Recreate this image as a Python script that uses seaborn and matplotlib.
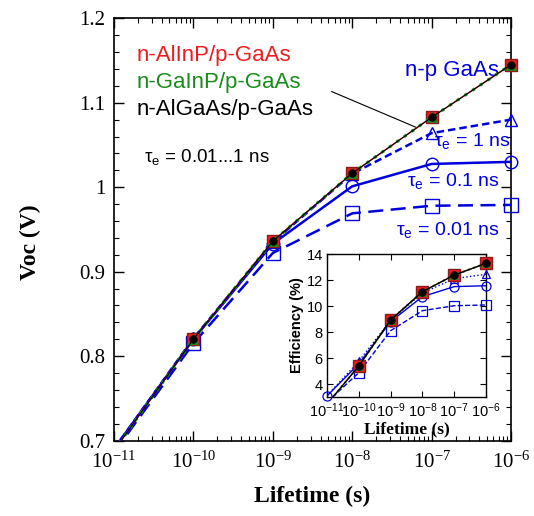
import numpy as np
import pandas as pd
import matplotlib
matplotlib.use("Agg")
import matplotlib.pyplot as plt
import seaborn as sns
from matplotlib.ticker import FixedLocator, LogLocator, FuncFormatter, MultipleLocator, NullFormatter

# ---------------- data ----------------
lifetime_s = [1e-11, 1e-10, 1e-9, 1e-8, 1e-7, 1e-6]

# main panel: open-circuit voltage (V)
voc_alinp = [0.688, 0.820, 0.936, 1.0165, 1.0827, 1.145]
voc_gainp = [0.688, 0.820, 0.936, 1.0165, 1.0827, 1.145]
voc_algaas = [0.688, 0.820, 0.936, 1.0165, 1.0827, 1.145]
voc_tau_1ns = [0.690, 0.821, 0.935, 1.016, 1.064, 1.080]
voc_tau_01ns = [0.690, 0.820, 0.933, 1.001, 1.0275, 1.030]
voc_tau_001ns = [0.686, 0.815, 0.922, 0.969, 0.978, 0.979]

# inset: efficiency (%)
eff_alinp = [2.45, 5.38, 8.92, 11.10, 12.38, 13.28]
eff_gainp = [2.45, 5.38, 8.92, 11.10, 12.38, 13.28]
eff_algaas = [2.45, 5.38, 8.92, 11.10, 12.38, 13.28]
eff_tau_1ns = [3.10, 5.75, 8.90, 11.00, 12.10, 12.44]
eff_tau_01ns = [3.08, 5.55, 8.80, 10.72, 11.49, 11.56]
eff_tau_001ns = [2.60, 4.87, 8.10, 9.64, 10.02, 10.08]

x_tick_exponents = [-11, -10, -9, -8, -7, -6]
voc_ticks = [0.7, 0.8, 0.9, 1.0, 1.1, 1.2]
eff_ticks = [4, 6, 8, 10, 12, 14]

het_labels = ["n-AlInP/p-GaAs", "n-GaInP/p-GaAs", "n-AlGaAs/p-GaAs"]
tau_labels = ["τ$_\\mathregular{e}$ = 1 ns", "τ$_\\mathregular{e}$ = 0.1 ns", "τ$_\\mathregular{e}$ = 0.01 ns"]
group_label = "n-p GaAs"
range_label = "τ$_\\mathregular{e}$ = 0.01...1 ns"

# ---------------- style ----------------
sns.set_theme(style="ticks")
plt.rcParams["font.family"] = ["Liberation Sans", "DejaVu Sans"]
plt.rcParams["axes.linewidth"] = 1.2

RED = "#ee1c1c"
RED_EDGE = "#8b1a1a"
GREEN = "#1a8c1a"
BLUE = "#0000dd"

fig = plt.figure(figsize=(5.34, 5.16), dpi=100)
fig.patch.set_facecolor("white")

W, H = 534, 516
ax = fig.add_axes([114 / W, 1 - 440.5 / H, 397 / W, 422.2 / H])
ax.set_facecolor("white")


def draw(a, y, color, lw, ls, marker, ms, mfc, mec, mew, z, first_marker=1):
    # line (clipped to the axes)
    sns.lineplot(x=lifetime_s, y=y, ax=a, errorbar=None, sort=False, color=color, lw=lw,
                 linestyle=ls, zorder=z)
    # markers (not clipped, like the reference)
    sns.lineplot(x=lifetime_s[first_marker:], y=y[first_marker:], ax=a, errorbar=None, sort=False,
                 color=color, linestyle="none", marker=marker, markersize=ms, markerfacecolor=mfc,
                 markeredgecolor=mec, markeredgewidth=mew, zorder=z + 0.5, clip_on=False)


def exp_fmt(v, p):
    return r"$\mathregular{10^{%d}}$" % int(round(np.log10(v)))


# main: blue homojunction curves
draw(ax, voc_tau_1ns, BLUE, 1.8, (0, (3, 1.6)), "^", 8, "none", BLUE, 1, 3)
draw(ax, voc_tau_01ns, BLUE, 1.8, "-", "o", 9, "none", BLUE, 1, 3)
draw(ax, voc_tau_001ns, BLUE, 1.8, (0, (6, 3)), "s", 10, "none", BLUE, 1, 3)
# heterojunction curves
draw(ax, voc_alinp, RED, 1.0, "-", "s", 9, RED, RED_EDGE, 1, 5)
draw(ax, voc_gainp, GREEN, 2.2, (0, (1, 2)), "^", 7, GREEN, GREEN, 0.5, 6)
draw(ax, voc_algaas, "black", 0.8, "-", "o", 5.5, "black", "black", 0.5, 7)

ax.set_xscale("log")
ax.set_xlim(10.0 ** x_tick_exponents[0], 10.0 ** x_tick_exponents[-1])
ax.set_ylim(voc_ticks[0], voc_ticks[-1])
ax.xaxis.set_major_locator(FixedLocator([10.0 ** e for e in x_tick_exponents]))
ax.xaxis.set_major_formatter(FuncFormatter(exp_fmt))
ax.xaxis.set_minor_locator(LogLocator(base=10, subs=np.arange(2, 10)))
ax.xaxis.set_minor_formatter(NullFormatter())
ax.yaxis.set_major_locator(FixedLocator(voc_ticks))
ax.yaxis.set_major_formatter(FuncFormatter(lambda v, p: "%g" % round(v, 2)))
ax.yaxis.set_minor_locator(MultipleLocator(0.02))
ax.tick_params(which="both", direction="in", top=True, right=True, colors="black",
               labelsize=15, labelfontfamily="Liberation Serif")
ax.tick_params(which="major", length=7, width=1.0, pad=6)
ax.tick_params(axis="x", which="major", pad=8)
ax.tick_params(which="minor", length=3.5, width=0.8)
for s in ax.spines.values():
    s.set_color("black")
    s.set_linewidth(1.2)

ax.set_xlabel("Lifetime (s)", fontfamily="Liberation Serif", fontweight="bold", fontsize=17, color="black")
ax.set_ylabel("Voc (V)", fontfamily="Liberation Serif", fontweight="bold", fontsize=17, color="black")
ax.xaxis.set_label_coords(0.5, -0.108)
ax.yaxis.set_label_coords(-0.185, 0.47)

# legend-like texts
het_colors = [RED, GREEN, "black"]
for lbl, col, yy in zip(het_labels, het_colors, [0.911, 0.847, 0.783]):
    ax.text(0.058, yy, lbl, color=col, fontsize=16, transform=ax.transAxes, va="center", ha="left")
ax.text(0.075, 0.657, range_label, color="black", fontsize=13.5, transform=ax.transAxes,
        va="baseline", ha="left")
ax.text(0.851, 0.877, group_label, color=BLUE, fontsize=16, transform=ax.transAxes,
        va="center", ha="center")
for lbl, (xx, yy) in zip(tau_labels, [(0.806, 0.695), (0.738, 0.602), (0.710, 0.486)]):
    ax.text(xx, yy, lbl, color=BLUE, fontsize=14, transform=ax.transAxes, va="baseline", ha="left")

ax.annotate("", xy=(6.4e-8, 1.0708), xytext=(5.5e-9, 1.1133),
            arrowprops=dict(arrowstyle="-", color="black", lw=0.8, shrinkA=0, shrinkB=0))

# ---------------- inset ----------------
axi = fig.add_axes([327 / W, 1 - 397 / H, 159 / W, 143 / H], zorder=10)
axi.set_facecolor("white")
draw(axi, eff_tau_1ns, BLUE, 1.0, ":", "^", 6, "none", BLUE, 0.9, 3)
draw(axi, eff_tau_01ns, BLUE, 1.0, "-", "o", 6.5, "none", BLUE, 0.9, 3, first_marker=0)
draw(axi, eff_tau_001ns, BLUE, 1.0, "--", "s", 7.5, "none", BLUE, 0.9, 3)
draw(axi, eff_alinp, RED, 0.8, "-", "s", 8, RED, RED_EDGE, 1, 5)
draw(axi, eff_gainp, GREEN, 1.5, ":", "^", 6, GREEN, GREEN, 0.5, 6)
draw(axi, eff_algaas, "black", 1.0, "-", "o", 5.5, "black", "black", 0.5, 7)

axi.set_xscale("log")
axi.set_xlim(10.0 ** x_tick_exponents[0], 10.0 ** x_tick_exponents[-1])
axi.set_ylim(3, 14)
axi.xaxis.set_major_locator(FixedLocator([10.0 ** e for e in x_tick_exponents]))
axi.xaxis.set_major_formatter(FuncFormatter(exp_fmt))
axi.xaxis.set_minor_locator(LogLocator(base=10, subs=np.arange(2, 10)))
axi.xaxis.set_minor_formatter(NullFormatter())
axi.yaxis.set_major_locator(FixedLocator(eff_ticks))
axi.yaxis.set_major_formatter(FuncFormatter(lambda v, p: "%d" % v))
axi.tick_params(which="both", direction="in", top=True, right=True, colors="black",
                labelsize=10.5, labelfontfamily="Liberation Sans")
axi.tick_params(which="major", length=4, width=0.8, pad=3)
axi.tick_params(which="minor", length=2, width=0.6)
for s in axi.spines.values():
    s.set_color("black")
    s.set_linewidth(1.0)
axi.set_xlabel("Lifetime (s)", fontfamily="Liberation Serif", fontweight="bold", fontsize=12.5,
               color="black", labelpad=1)
axi.set_ylabel("Efficiency (%)", fontfamily="Liberation Sans", fontweight="bold", fontsize=10.5,
               color="black", labelpad=2)

fig.savefig("out.png", dpi=100, facecolor="white")
